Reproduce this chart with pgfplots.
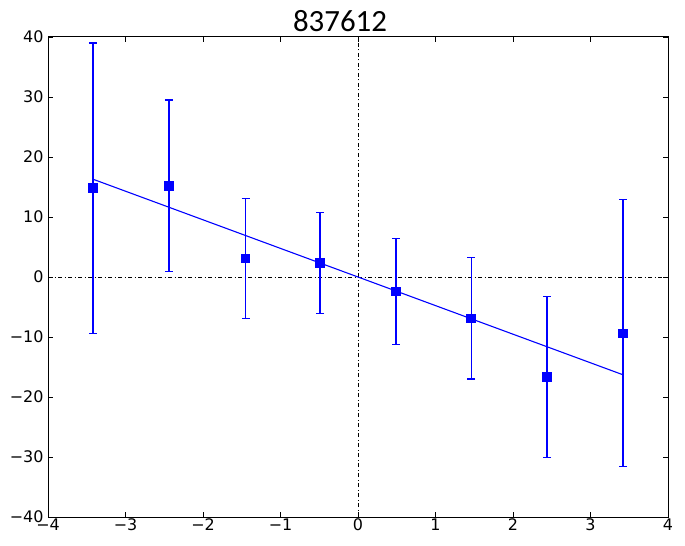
\documentclass[border=0pt]{standalone}
\usepackage{fontspec}
\setmainfont{DejaVu Sans}
\newfontfamily\titlefont{Carlito}
\usepackage{pgfplots}
\pgfplotsset{compat=1.18}
\usepackage{pgfplotstable}
\pgfplotstableread{
x y e
-3.42 14.8 24.2
-2.44 15.2 14.3
-1.45 3.1 10.0
-0.49 2.3 8.4
0.49 -2.4 8.8
1.46 -6.9 10.1
2.44 -16.7 13.45
3.42 -9.4 22.25
}\pts
\begin{document}
\begin{tikzpicture}
\begin{axis}[
  scale only axis,
  width=620bp, height=480bp,
  xmin=-4, xmax=4, ymin=-40, ymax=40,
  xtick={-4,-3,...,4}, ytick={-40,-30,...,40},
  xticklabels={−4,−3,−2,−1,0,1,2,3,4},
  yticklabels={−40,−30,−20,−10,0,10,20,30,40},
  tick align=inside, major tick length=5bp,
  xtick pos=both, ytick pos=both,
  axis line style={black, line width=1pt},
  tick style={black, line width=0.6pt},
  every tick label/.append style={font=\fontsize{16}{18}\selectfont},
  xticklabel style={yshift=2bp},
  yticklabel style={xshift=-1bp},
  title={\titlefont\fontsize{31}{34}\selectfont 837612},
  title style={xshift=-18bp, yshift=-4bp},
  clip=false,
]
\addplot[black, line width=0.8pt, dash pattern=on 4bp off 2.5bp on 1bp off 2.5bp] coordinates {(-4,0) (4,0)};
\addplot[black, line width=0.8pt, dash pattern=on 4bp off 2.5bp on 1bp off 2.5bp] coordinates {(0,-40) (0,40)};
\addplot[blue, line width=1.1pt] coordinates {(-3.42,16.3) (3.42,-16.3)};
\addplot[draw=blue, only marks, mark=square*, mark size=4.3bp, mark options={fill=blue, draw=blue, line width=0pt},
  error bars/.cd, y dir=both, y explicit,
  error bar style={draw=blue, color=blue, line width=1.3pt},
  error mark options={rotate=90, draw=blue, color=blue, mark size=4bp, line width=1.1pt}]
  table[x=x, y=y, y error=e] {\pts};
\end{axis}
\path (current axis.south west) ++(-48bp,-28bp) coordinate (bbA);
\path (current axis.north east) ++(17bp,37bp) coordinate (bbB);
\useasboundingbox (bbA) rectangle (bbB);
\end{tikzpicture}
\end{document}
